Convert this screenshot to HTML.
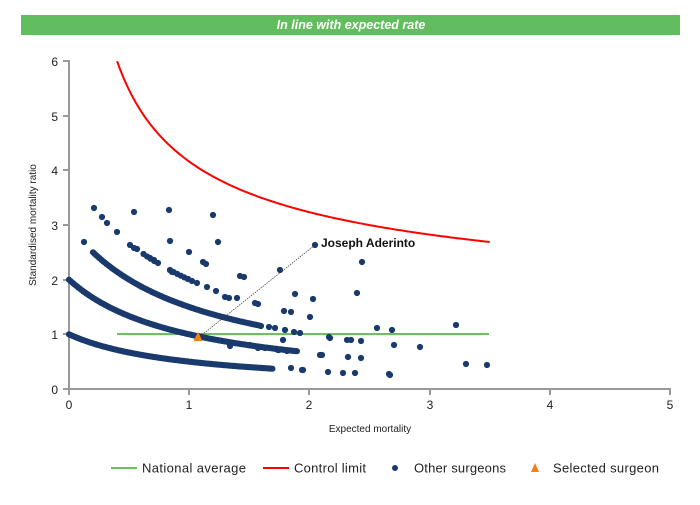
<!DOCTYPE html>
<html><head><meta charset="utf-8"><style>
body{margin:0;background:#fff;width:700px;height:500px;overflow:hidden;font-family:"Liberation Sans",Arial,sans-serif}
</style></head><body>
<svg id="s" width="700" height="500" xmlns="http://www.w3.org/2000/svg" font-family="Liberation Sans, Arial, sans-serif">
<rect x="21" y="15" width="659" height="20" fill="#62bd5f"/>
<text x="351" y="29" text-anchor="middle" fill="#fff" font-size="12.5" font-weight="bold" font-style="italic">In line with expected rate</text>
<g stroke="#999" stroke-width="2" fill="none">
<line x1="69" y1="60" x2="69" y2="390"/>
<line x1="68" y1="389" x2="671" y2="389"/>
<path d="M63 61H69M63 116H69M63 170H69M63 225H69M63 280H69M63 334H69M63 389H69"/>
<path d="M69 389V395M189 389V395M309 389V395M430 389V395M550 389V395M670 389V395"/>
</g>
<g font-size="12" fill="#222" text-anchor="end">
<text x="58" y="66">6</text><text x="58" y="121">5</text><text x="58" y="175">4</text><text x="58" y="230">3</text><text x="58" y="285">2</text><text x="58" y="339">1</text><text x="58" y="394">0</text>
</g>
<g font-size="12" fill="#222" text-anchor="middle">
<text x="69" y="409">0</text><text x="189" y="409">1</text><text x="309" y="409">2</text><text x="430" y="409">3</text><text x="550" y="409">4</text><text x="670" y="409">5</text>
</g>
<text x="370" y="432" font-size="10" text-anchor="middle" fill="#222">Expected mortality</text>
<text transform="translate(36,225) rotate(-90)" font-size="10" text-anchor="middle" fill="#222">Standardised mortality ratio</text>
<line x1="117" y1="334" x2="489" y2="334" stroke="#6cc15f" stroke-width="2"/>
<path id="cl" fill="none" stroke="#f00" stroke-width="2"/>
<g id="dots" fill="#1a3a6e"></g>
<line x1="198" y1="338" x2="315" y2="245" stroke="#333" stroke-width="0.7" stroke-dasharray="1.5,1"/>
<polygon points="198,332 193.5,341 202.5,341" fill="#f47f17"/>
<text x="321" y="247" font-size="12" font-weight="bold" fill="#111">Joseph Aderinto</text>
<g font-size="13" fill="#222">
<line x1="111" y1="468" x2="137" y2="468" stroke="#6cc15f" stroke-width="2"/>
<text x="142" y="472.5" textLength="104">National average</text>
<line x1="263" y1="468" x2="289" y2="468" stroke="#f00" stroke-width="2"/>
<text x="294" y="472.5" textLength="72">Control limit</text>
<circle cx="395" cy="468" r="3" fill="#1a3a6e"/>
<text x="414" y="472.5" textLength="92">Other surgeons</text>
<polygon points="535,463 531,472 539,472" fill="#f47f17"/>
<text x="553" y="472.5" textLength="106">Selected surgeon</text>
</g>
</svg>
<script>
var X=function(v){return 69+v*120.2},Y=function(v){return 389-v*54.67};
var d="";for(var x=0.4;x<=3.501;x+=0.02){var y=1+3.16/Math.sqrt(x);d+=(d?"L":"M")+X(x).toFixed(1)+" "+Y(y).toFixed(1);}
document.getElementById("cl").setAttribute("d",d);
var g=document.getElementById("dots"),h="";
function c(px,py){h+='<circle cx="'+px.toFixed(1)+'" cy="'+py.toFixed(1)+'" r="3.1"/>';}
function band(n,a,b,st){for(var x=a;x<=b;x+=st)c(X(x),Y(n/(1+x)));}
band(1,0,1.7,0.012);band(2,0,1.9,0.012);band(3,0.2,1.6,0.014);
band(4,0.62,0.72,0.03);band(4,0.84,1.0,0.03);
var p=[[84,242],[94,208],[102,217],[107,223],[117,232],[130,245],[134,248],[137,249],[134,212],[169,210],[213,215],[150,258],[154,260],[158,263],[170,270],[172,272],[170,241],[189,252],[218,242],[188,279],[192,281],[197,283],[207,287],[216,291],[203,262],[206,264],[240,276],[244,277],[225,297],[229,298],[237,298],[255,303],[258,304],[280,270],[315,245],[362,262],[295,294],[313,299],[357,293],[284,311],[291,312],[310,317],[252,324],[261,326],[269,327],[275,328],[285,330],[294,332],[300,333],[329,337],[377,328],[392,330],[456,325],[330,338],[347,340],[351,340],[361,341],[394,345],[420,347],[320,355],[322,355],[348,357],[361,358],[466,364],[487,365],[258,348],[265,348],[276,349],[279,350],[291,368],[302,370],[303,370],[328,372],[343,373],[355,373],[389,374],[390,375],[283,340],[287,351],[278,350],[250,345],[230,346]];
p.forEach(function(q){c(q[0],q[1]);});
g.innerHTML=h;
</script>
</body></html>
